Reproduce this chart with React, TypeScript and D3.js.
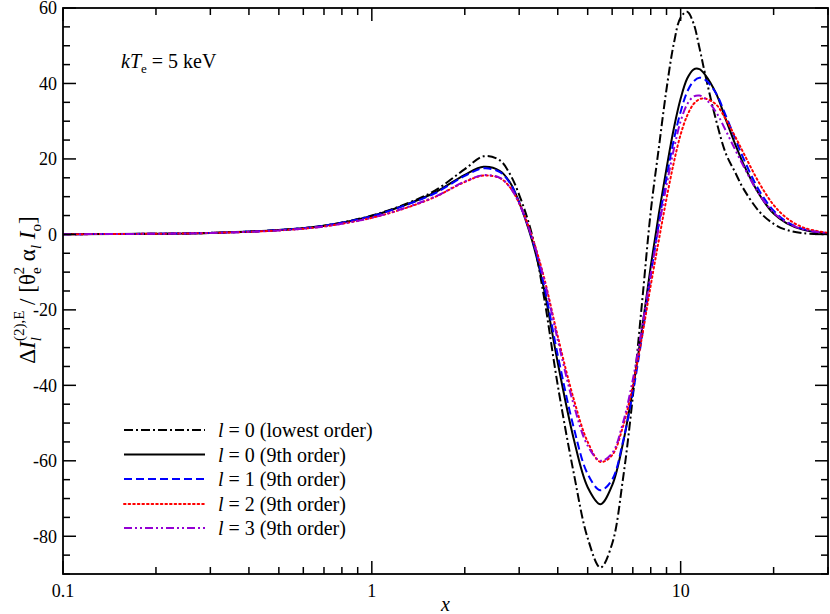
import React from 'react';
import * as d3 from 'd3';

const xValues = [0.1, 0.2, 0.3, 0.5, 0.7, 1.0, 1.3, 1.6, 2.0, 2.3, 2.6, 2.8, 3.0, 3.3, 3.6, 4.0, 4.5, 5.0, 5.5, 6.0, 6.5, 7.0, 7.5, 8.0, 8.5, 9.0, 9.5, 10, 10.5, 11, 11.5, 12, 13, 14, 15, 16, 18, 20, 22, 25, 30];

const lowestOrderL0 = [0.05, 0.18, 0.4, 1.15, 2.3, 5.0, 8.2, 11.6, 17.3, 20.7, 19.6, 16.0, 10.5, 0, -16, -40, -63, -80.5, -88.3, -82, -65, -43, -18, 6, 23, 38.5, 50.5, 57.5, 59, 56, 49.5, 42.5, 30.5, 21.5, 16.5, 12, 6, 2.8, 1.2, 0.3, 0.05];
const ninthOrderL0 = [0.05, 0.18, 0.4, 1.15, 2.3, 4.9, 8.0, 11.1, 15.8, 17.9, 16.8, 13.8, 8.5, -1.5, -14, -34, -54, -67, -71.5, -66.5, -55.5, -41, -25, -8.5, 5.5, 17.5, 28, 36, 41.3, 43.7, 43.8, 42.3, 37.5, 30.5, 24, 18.5, 10.5, 5.5, 3.0, 1.2, 0.2];
const ninthOrderL1 = [0.05, 0.18, 0.4, 1.15, 2.3, 4.85, 7.9, 10.9, 15.5, 17.5, 16.5, 13.6, 8.5, -1, -13, -32, -51, -63.5, -67.8, -65, -55, -42, -27, -11, 3, 15, 25, 32.5, 37.8, 40.5, 41.5, 41, 37.5, 31.5, 25.5, 20, 11.5, 6.3, 3.4, 1.4, 0.3];
const ninthOrderL2 = [0.05, 0.17, 0.38, 1.05, 2.1, 4.4, 7.1, 9.9, 13.9, 15.6, 14.9, 12.5, 8.3, -0.5, -11, -27, -43.5, -55, -60.3, -58.5, -51, -40, -27, -13.5, -1.5, 9.5, 19, 26.5, 31.5, 34.5, 35.8, 36, 34.5, 30.5, 26, 21.5, 13.5, 7.8, 4.4, 1.8, 0.4];
const ninthOrderL3 = [0.05, 0.17, 0.38, 1.05, 2.1, 4.4, 7.2, 10.0, 14.0, 15.7, 15.0, 12.5, 8.2, -0.8, -11.5, -28, -45, -56, -60, -58, -50, -38.5, -24.5, -10.5, 2, 13, 22.5, 30, 34.5, 36.5, 36.8, 36, 32.5, 27.5, 22.5, 18, 10.5, 5.8, 3.2, 1.3, 0.3];

const seriesL = ['0', '0', '1', '2', '3'];
const seriesNames = ['(lowest order)', '(9th order)', '(9th order)', '(9th order)', '(9th order)'];
const seriesColors = ['#000000', '#000000', '#0000ff', '#ff0000', '#9400d3'];
const seriesDashes = ['9,3,2,3', 'none', '8,4', '1.6,3', '8,3,2,3,2,3'];

const yMajorTicks = [-80, -60, -40, -20, 0, 20, 40, 60];
const xMajorTicks = [0.1, 1, 10];
const xMajorLabels = ['0.1', '1', '10'];

const FONT = 'Liberation Serif, DejaVu Serif, Times New Roman, serif';

export default function App() {
  const W = 830, H = 614;
  const L = 63, R = 828, T = 8, B = 574;
  const x = d3.scaleLog().domain([0.1, 30]).range([L, R]);
  const y = d3.scaleLinear().domain([-90, 60]).range([B, T]);

  const allSeries = [lowestOrderL0, ninthOrderL0, ninthOrderL1, ninthOrderL2, ninthOrderL3];
  const line = d3.line<number>()
    .x((_, i) => x(xValues[i]))
    .y((d) => y(d))
    .curve(d3.curveCatmullRom.alpha(0.5));

  const yMinor: number[] = [];
  for (let v = -90; v <= 60; v += 5) if (v % 20 !== 0) yMinor.push(v);
  const xMinor: number[] = [];
  [0.1, 1, 10].forEach((d) => {
    for (let k = 2; k <= 9; k++) {
      const v = k * d;
      if (v <= 30) xMinor.push(v);
    }
  });

  const MAJ = 13, MIN = 7;
  const legendY = [430, 454.5, 479, 504, 528];
  const ts = { fontFamily: FONT } as React.CSSProperties;

  return (
    <svg width={W} height={H} style={{ position: 'absolute', left: 0, top: 0, background: '#fff', fontFamily: FONT }}>
      <defs>
        <clipPath id="plotclip">
          <rect x={L} y={T} width={R - L} height={B - T} />
        </clipPath>
      </defs>
      <rect x={0} y={0} width={W} height={H} fill="#fff" />

      <g clipPath="url(#plotclip)">
        {allSeries.map((s, i) => (
          <path key={i} d={line(s) || ''} fill="none" stroke={seriesColors[i]} strokeWidth={2}
            strokeDasharray={seriesDashes[i]} strokeLinecap={i === 3 ? 'round' : 'butt'} />
        ))}
      </g>

      <rect x={L} y={T} width={R - L} height={B - T} fill="none" stroke="#000" strokeWidth={1.8} />

      {yMajorTicks.map((v) => (
        <g key={'ym' + v}>
          <line x1={L} x2={L + MAJ} y1={y(v)} y2={y(v)} stroke="#000" strokeWidth={1.5} />
          <line x1={R} x2={R - MAJ} y1={y(v)} y2={y(v)} stroke="#000" strokeWidth={1.5} />
          <text style={ts} x={L - 6} y={y(v)} dy="0.35em" textAnchor="end" fontSize={18}>{String(v)}</text>
        </g>
      ))}
      {yMinor.map((v) => (
        <g key={'yn' + v}>
          <line x1={L} x2={L + MIN} y1={y(v)} y2={y(v)} stroke="#000" strokeWidth={1.5} />
          <line x1={R} x2={R - MIN} y1={y(v)} y2={y(v)} stroke="#000" strokeWidth={1.5} />
        </g>
      ))}

      {xMajorTicks.map((v, i) => (
        <g key={'xm' + v}>
          <line x1={x(v)} x2={x(v)} y1={B} y2={B - MAJ} stroke="#000" strokeWidth={1.5} />
          <line x1={x(v)} x2={x(v)} y1={T} y2={T + MAJ} stroke="#000" strokeWidth={1.5} />
          <text style={ts} x={x(v)} y={597} textAnchor="middle" fontSize={18}>{xMajorLabels[i]}</text>
        </g>
      ))}
      {xMinor.map((v) => (
        <g key={'xn' + v}>
          <line x1={x(v)} x2={x(v)} y1={B} y2={B - MIN} stroke="#000" strokeWidth={1.5} />
          <line x1={x(v)} x2={x(v)} y1={T} y2={T + MIN} stroke="#000" strokeWidth={1.5} />
        </g>
      ))}

      <text style={ts} x={(L + R) / 2} y={611} textAnchor="middle" fontSize={20} fontStyle="italic">x</text>

      <text style={ts} transform="translate(35,290) rotate(-90)" textAnchor="middle" fontSize={23}>
        <tspan>Δ</tspan>
        <tspan fontStyle="italic">I</tspan>
        <tspan fontStyle="italic" fontSize={15} dy={6}>l</tspan>
        <tspan fontSize={15} dx={-4} dy={-17}>(2),E</tspan>
        <tspan dy={11}> / [θ</tspan>
        <tspan fontSize={15} dy={6}>e</tspan>
        <tspan fontSize={15} dx={-7} dy={-17}>2</tspan>
        <tspan dy={11}> α</tspan>
        <tspan fontStyle="italic" fontSize={15} dy={6}>l</tspan>
        <tspan fontStyle="italic" dy={-6}> I</tspan>
        <tspan fontSize={15} dy={6}>o</tspan>
        <tspan dy={-6}>]</tspan>
      </text>

      <text style={ts} x={121} y={68} fontSize={20}>
        <tspan fontStyle="italic">kT</tspan>
        <tspan fontSize={13} dy={5}>e</tspan>
        <tspan dy={-5}> = 5 keV</tspan>
      </text>

      {seriesNames.map((name, i) => (
        <g key={'lg' + i}>
          <line x1={124} x2={205} y1={legendY[i]} y2={legendY[i]} stroke={seriesColors[i]} strokeWidth={2}
            strokeDasharray={seriesDashes[i]} strokeLinecap={i === 3 ? 'round' : 'butt'} />
          <text style={ts} x={218} y={legendY[i]} dy="0.35em" fontSize={20}>
            <tspan fontStyle="italic">l</tspan>
            <tspan>{` = ${seriesL[i]} ${name}`}</tspan>
          </text>
        </g>
      ))}
    </svg>
  );
}
